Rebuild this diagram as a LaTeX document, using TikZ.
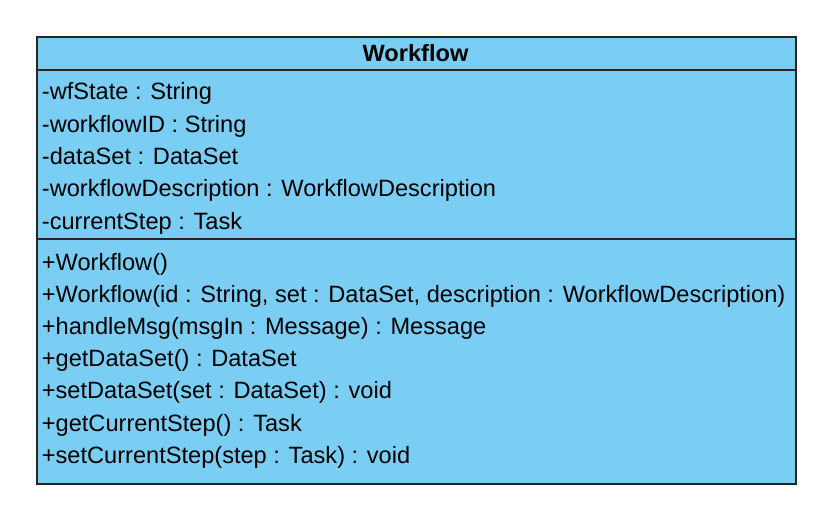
\documentclass[tikz,border=0pt]{standalone}
\usepackage{fontspec}
\setmainfont{Liberation Sans}
\definecolor{umlblue}{RGB}{122,206,244}
\begin{document}
\begin{tikzpicture}[x=1pt,y=-1pt,
  member/.style={anchor=base west,inner sep=0pt,font=\fontsize{23.6}{28}\selectfont},
  title/.style={anchor=base,inner sep=0pt,font=\fontsize{23.6}{28}\selectfont\bfseries}]
\useasboundingbox (0,0) rectangle (832,521);
\node[draw=black!85,line width=1.6pt,fill=umlblue,minimum width=759pt,minimum height=447pt,inner sep=0pt,anchor=north west] (box) at (36,36) {};
\draw[black!85,line width=1.6pt] (36,70) coordinate (h1) -- (795,70) coordinate (h2);
\draw[black!85,line width=1.6pt] (36,239) coordinate (d1) -- (795,239) coordinate (d2);
\node[title] (t) at (415.5,61.5) {Workflow};
\node[member] (a1) at (41.7,100) {-wfState : String};
\node[member] (a2) at (41.7,132.3) {-workflowID : String};
\node[member] (a3) at (41.7,164.6) {-dataSet : DataSet};
\node[member] (a4) at (41.7,196.9) {-workflowDescription : WorkflowDescription};
\node[member] (a5) at (41.7,229.2) {-currentStep : Task};
\node[member] (m1) at (41.7,270) {+Workflow()};
\node[member] (m2) at (41.7,302.2) {+Workflow(id : String, set : DataSet, description : WorkflowDescription)};
\node[member] (m3) at (41.7,334.4) {+handleMsg(msgIn : Message) : Message};
\node[member] (m4) at (41.7,366.6) {+getDataSet() : DataSet};
\node[member] (m5) at (41.7,398.8) {+setDataSet(set : DataSet) : void};
\node[member] (m6) at (41.7,431) {+getCurrentStep() : Task};
\node[member] (m7) at (41.7,463.2) {+setCurrentStep(step : Task) : void};
\end{tikzpicture}
\end{document}
